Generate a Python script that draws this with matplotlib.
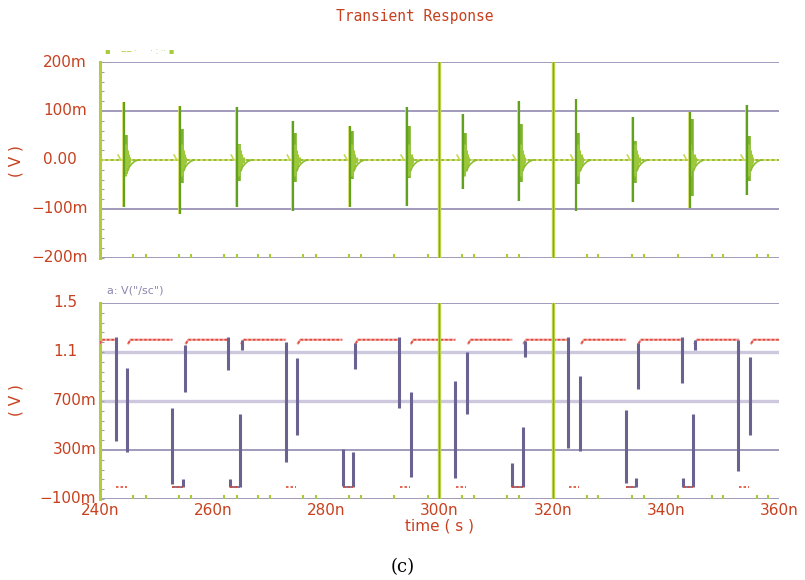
import matplotlib
matplotlib.use("Agg")
import matplotlib.pyplot as plt
import numpy as np

# ---- top panel: ringing spikes (V), time in ns ----
spike_t = [244.2, 254.1, 264.2, 274.1, 284.2, 294.2, 304.1, 314.0, 324.2, 334.2, 344.2, 354.3]
spike_hi = [0.119, 0.110, 0.109, 0.080, 0.069, 0.109, 0.094, 0.120, 0.125, 0.088, 0.097, 0.112]
spike_lo = [-0.095, -0.111, -0.095, -0.104, -0.095, -0.093, -0.060, -0.084, -0.104, -0.086, -0.099, -0.071]
ring_hi = [0.050, 0.064, 0.032, 0.056, 0.059, 0.069, 0.056, 0.074, 0.056, 0.039, 0.083, 0.049]
ring_lo = [-0.029, -0.046, -0.043, -0.045, -0.039, -0.036, -0.012, -0.045, -0.050, -0.046, -0.073, -0.043]
# small decaying bars right after each spike
ring2_dt = [0.15, 0.5, 0.75, 1.0]
ring2_amp = [0.032, 0.020, 0.012, 0.006]
# settling tail and the little blip before the spike
tail_dt = [0.7, 1.0, 1.4, 1.9, 2.5]
tail_v = [-0.022, -0.014, -0.008, -0.003, 0.0]
pre_dt = [-1.0, -0.5]
pre_v = [0.010, 0.0]

# ---- bottom panel: digital output (V) ----
seg_t = [242.8, 244.8, 252.8, 254.7, 255.0, 262.7, 263.0, 264.7, 265.1, 272.8, 274.9,
         283.0, 284.8, 285.0, 292.8, 294.9, 302.8, 304.9, 312.9, 314.8, 315.1, 322.7,
         324.8, 332.9, 334.7, 335.0, 342.8, 343.1, 344.8, 345.1, 352.8, 354.9]
seg_top = [1.22, 0.97, 0.64, 0.06, 1.16, 1.22, 0.06, 0.59, 1.20, 1.18, 1.05,
           0.31, 0.28, 1.17, 1.22, 0.77, 0.86, 1.10, 0.19, 0.49, 1.19, 1.22,
           0.90, 0.63, 0.07, 1.17, 1.22, 0.07, 0.59, 1.20, 1.20, 1.06]
seg_bot = [0.37, 0.28, 0.02, 0.0, 0.77, 0.95, 0.0, 0.0, 1.12, 0.20, 0.42,
           0.01, 0.0, 0.96, 0.64, 0.08, 0.07, 0.59, 0.0, 0.0, 1.06, 0.32,
           0.29, 0.03, 0.0, 0.80, 0.85, 0.0, 0.0, 1.12, 0.13, 0.42]
hook_start = [252.8, 263.0, 283.0, 312.9, 332.9, 343.1]
hook_end = [254.7, 264.7, 284.8, 314.8, 334.7, 344.8]
high_start = [240.0, 245.0, 255.2, 265.0, 275.0, 285.2, 295.0, 305.1, 314.9, 325.1, 335.2, 345.1, 355.1]
high_end = [242.7, 252.7, 262.6, 272.7, 282.7, 292.8, 302.7, 312.7, 322.7, 332.8, 342.8, 352.8, 360.0]
low_start = [242.9, 252.8, 263.0, 272.9, 283.0, 293.0, 302.9, 312.9, 322.9, 332.9, 343.0, 352.9]
low_end = [244.7, 254.7, 264.7, 274.7, 284.8, 294.8, 304.7, 314.8, 324.7, 334.7, 344.8, 354.7]
v_high = 1.2
v_step = 1.17
v_low = 0.0

# clipped points visible along the bottom of both panels
speck_t = [245.8, 248.1, 254.0, 256.1, 261.9, 264.2, 267.9, 270.0, 275.9, 278.2, 284.0, 286.1,
           291.9, 298.0, 304.0, 306.1, 311.9, 314.0, 326.0, 328.0, 334.0, 336.1, 342.1, 348.1,
           350.1, 356.1, 358.0]
cursor_t = [300, 320]

top_ticks = [0.2, 0.1, 0.0, -0.1, -0.2]
top_labels = ["200m", "100m", "0.00", "\u2212100m", "\u2212200m"]
bot_ticks = [1.5, 1.1, 0.7, 0.3, -0.1]
bot_labels = ["1.5", "1.1", "700m", "300m", "\u2212100m"]
x_ticks = [240, 260, 280, 300, 320, 340, 360]
x_labels = ["240n", "260n", "280n", "300n", "320n", "340n", "360n"]

RED = "#c8401e"
GRID = "#9a92b6"
LAV = "#cdc8de"
GREEN = "#62a020"
LIGHT = "#a6cc3a"
YEL = "#dfe46a"
PURP = "#6a6290"

fig = plt.figure(figsize=(8.05, 5.80), dpi=100)
ax1 = fig.add_axes([0.1242, 0.5552, 0.8435, 0.3379])
ax2 = fig.add_axes([0.1242, 0.1397, 0.8435, 0.3379])


def frame(ax, ticks, labels, ylim, label_px, minus_px, thick):
    ax.set_xlim(240, 360)
    ax.set_ylim(*ylim)
    for s in ["top", "right", "bottom"]:
        ax.spines[s].set_visible(False)
    ax.spines["left"].set_color("#b4cc3c")
    ax.spines["left"].set_linewidth(2.2)
    ax.set_yticks(ticks)
    ax.set_yticklabels([])
    step = (ticks[0] - ticks[1]) / 5
    ax.set_yticks(np.arange(ylim[0], ylim[1] + step / 2, step), minor=True)
    ax.tick_params(axis="y", which="both", direction="in", length=3, width=0.8, color="#a0a0a0")
    ax.tick_params(axis="x", length=0)
    for v, lbl in zip(ticks, labels):
        if v in thick:
            ax.axhline(v, color=LAV, lw=2.4, zorder=1)
        else:
            ax.axhline(v, color=GRID, lw=1.3, zorder=1)
        off = label_px + (minus_px if lbl.startswith("\u2212") else 0)
        ax.annotate(lbl, xy=(0, v), xycoords=ax.get_yaxis_transform(),
                    xytext=(-off * 0.72, 0), textcoords="offset points",
                    ha="left", va="center", color=RED, fontsize=11,
                    annotation_clip=False)
    ax.vlines(speck_t, 0, 0.022, transform=ax.get_xaxis_transform(), color=LIGHT, lw=1.5, zorder=3)
    for c in cursor_t:
        ax.axvline(c, color="#bcd44c", lw=2.4, zorder=5)
        ax.axvline(c, color="#86a822", lw=0.8, zorder=6)


frame(ax1, top_ticks, top_labels, (-0.2, 0.2), 57, 12, [])
frame(ax2, bot_ticks, bot_labels, (-0.1, 1.5), 47, 14, [1.1, 0.7])
ax1.set_xticks([])

# ---- top panel traces ----
ax1.plot([240, 360], [0, 0], color=YEL, lw=1.3, zorder=2)
ax1.plot([240, 360], [0, 0], color="#8cbc30", lw=1.3, ls=(0, (1.5, 1.5)), zorder=2)
for i, t in enumerate(spike_t):
    ax1.vlines(t - 0.15, spike_lo[i], spike_hi[i], color=YEL, lw=1.2, zorder=3)
    ax1.vlines(t, spike_lo[i], spike_hi[i], color=GREEN, lw=1.6, zorder=4)
    ax1.vlines(t + 0.35, ring_lo[i], ring_hi[i], color="#7cb42a", lw=2.6, zorder=3)
    for dt, a in zip(ring2_dt, ring2_amp):
        ax1.vlines(t + dt, -a, a, color="#9cc83a", lw=2.2, zorder=3)
    ax1.plot([t + d for d in tail_dt], tail_v, color="#8cbc30", lw=1.2, zorder=3)
    ax1.plot([t + d for d in pre_dt], pre_v, color="#c8d850", lw=1.2, zorder=3)

# ---- bottom panel traces ----
ax2.vlines(seg_t, seg_bot, seg_top, color=PURP, lw=2.2, zorder=4)
ax2.hlines([v_low] * len(hook_start), hook_start, hook_end, color=PURP, lw=1.2, zorder=3)
for s, e in zip(high_start, high_end):
    ax2.plot([s, s + 0.4, e], [v_step, v_high, v_high], color="#f0a0a0", lw=1.6, zorder=3)
    ax2.plot([s, s + 0.4, e], [v_step, v_high, v_high], color="#e04a34", lw=1.2,
             ls=(0, (1.5, 1.2)), zorder=3)
ax2.hlines([v_low] * len(low_start), low_start, low_end, color="#e04a34", lw=1.2,
           ls=(0, (1.5, 1.2)), zorder=4)

ax2.set_xticks(x_ticks)
ax2.set_xticklabels(x_labels, color=RED, fontsize=11)
ax2.tick_params(axis="x", pad=3)
ax2.set_xlabel("time ( s )", color=RED, fontsize=11, labelpad=0)

for ax, yc in [(ax1, 161), (ax2, 400)]:
    fig.text(16 / 805, 1 - yc / 580, "( V )", rotation=90, color=RED, fontsize=11,
             ha="center", va="center")

fig.text(415 / 805, 1 - 16 / 580, "Transient Response", color=RED, fontsize=10.5,
         family="DejaVu Sans Mono", ha="center", va="center")
fig.text(105 / 805, 1 - 52 / 580, "\u25aa    \u2012\u2012 \u00b7     \u00b7 : \u00b7\u00b7 \u25aa",
         color=LIGHT, fontsize=6, va="center")
fig.text(107 / 805, 1 - 291 / 580, 'a: V("/sc")', color="#8c86aa", fontsize=8, va="center")
fig.text(403 / 805, 1 - 567 / 580, "(c)", color="black", fontsize=13,
         family="DejaVu Serif", ha="center", va="center")

fig.savefig("out.png", dpi=100, facecolor="white")
